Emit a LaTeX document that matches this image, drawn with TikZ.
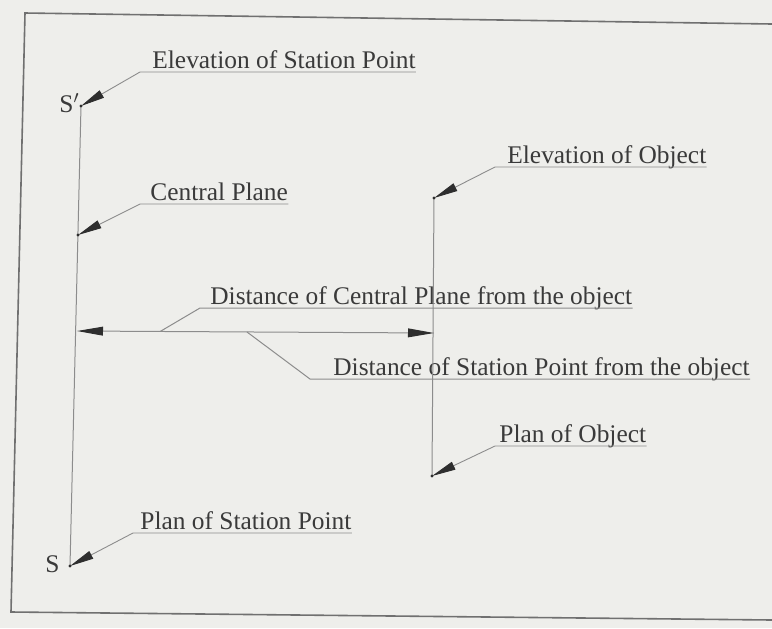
\documentclass[tikz,border=0pt]{standalone}
\usepackage{fontspec}
\setmainfont{Liberation Serif}
\usetikzlibrary{arrows.meta,calc}
\definecolor{PerspPaper}{HTML}{EEEEEB}
\definecolor{PerspInk}{HTML}{3A3A3A}
\definecolor{PerspLine}{HTML}{8C8C8C}
\definecolor{PerspFrame}{HTML}{707070}
\definecolor{PerspTip}{HTML}{2E2E2E}

\begin{document}
\begin{tikzpicture}[x=0.5pt,y=-0.5pt,
  lbl/.style={anchor=south west,inner xsep=0pt,inner ysep=1.5pt,text depth=0pt,font=\fontsize{12.7}{14}\selectfont,text=PerspInk},
  ptname/.style={anchor=base east,inner sep=0pt,font=\fontsize{12.7}{14}\selectfont,text=PerspInk},
  guide/.style={draw=PerspLine,line width=0.5pt},
  lead/.style={draw=PerspLine,line width=0.45pt,-{Triangle[length=12pt,width=4.2pt,color=PerspTip]}},
  dim/.style={draw=PerspLine,line width=0.5pt,{Triangle[length=13pt,width=4.4pt,color=PerspTip]}-{Triangle[length=13pt,width=4.4pt,color=PerspTip]}},
  frame/.style={draw=PerspFrame,line width=0.8pt},
]
\fill[PerspPaper] (0,0) rectangle (772,628);
\useasboundingbox (0,0) rectangle (772,628);
\draw[frame] (772,24) -- (25,13) -- (11,612) -- (772,620);

\coordinate (sp) at (81,106);
\coordinate (cp) at (78,235);
\coordinate (s) at (70,566);
\coordinate (dl) at (77,331);
\coordinate (dr) at (434,333);
\coordinate (eo) at (434,198);
\coordinate (po) at (432,476);
\coordinate (f4) at ($(dl)!0.233!(dr)$);
\coordinate (f5) at ($(dl)!0.476!(dr)$);

\coordinate (k1) at (140,72);
\coordinate (k2) at (140,204);
\coordinate (k3) at (495,167);
\coordinate (k4) at (200,308);
\coordinate (k5) at (310,379);
\coordinate (k6) at (495,446);
\coordinate (k7) at (133,533);

\node[ptname] (spname) at (80,112) {S$'$};
\node[ptname] (sname) at (60,572) {S};

\node[lbl] (esp) at (152,72) {Elevation of Station Point};
\node[lbl] (cpl) at (150,204) {Central Plane};
\node[lbl] (eol) at (507,167) {Elevation of Object};
\node[lbl] (dcp) at (210,308) {Distance of Central Plane from the object};
\node[lbl] (dsp) at (333,379) {Distance of Station Point from the object};
\node[lbl] (pol) at (499,446) {Plan of Object};
\node[lbl] (psp) at (140,533) {Plan of Station Point};

\draw[guide] (sp) -- (s);
\draw[guide] (eo) -- (po);
\draw[dim] (dl) -- (dr);

\draw[lead] (esp.south east) -- (k1) -- (sp);
\draw[lead] (cpl.south east) -- (k2) -- (cp);
\draw[lead] (eol.south east) -- (k3) -- (eo);
\draw[guide] (dcp.south east) -- (k4) -- (f4);
\draw[guide] (dsp.south east) -- (k5) -- (f5);
\draw[lead] (pol.south east) -- (k6) -- (po);
\draw[lead] (psp.south east) -- (k7) -- (s);

\foreach \p in {sp,cp,s,eo,po}
  \fill[PerspTip] (\p) circle (1.6);
\end{tikzpicture}
\end{document}
